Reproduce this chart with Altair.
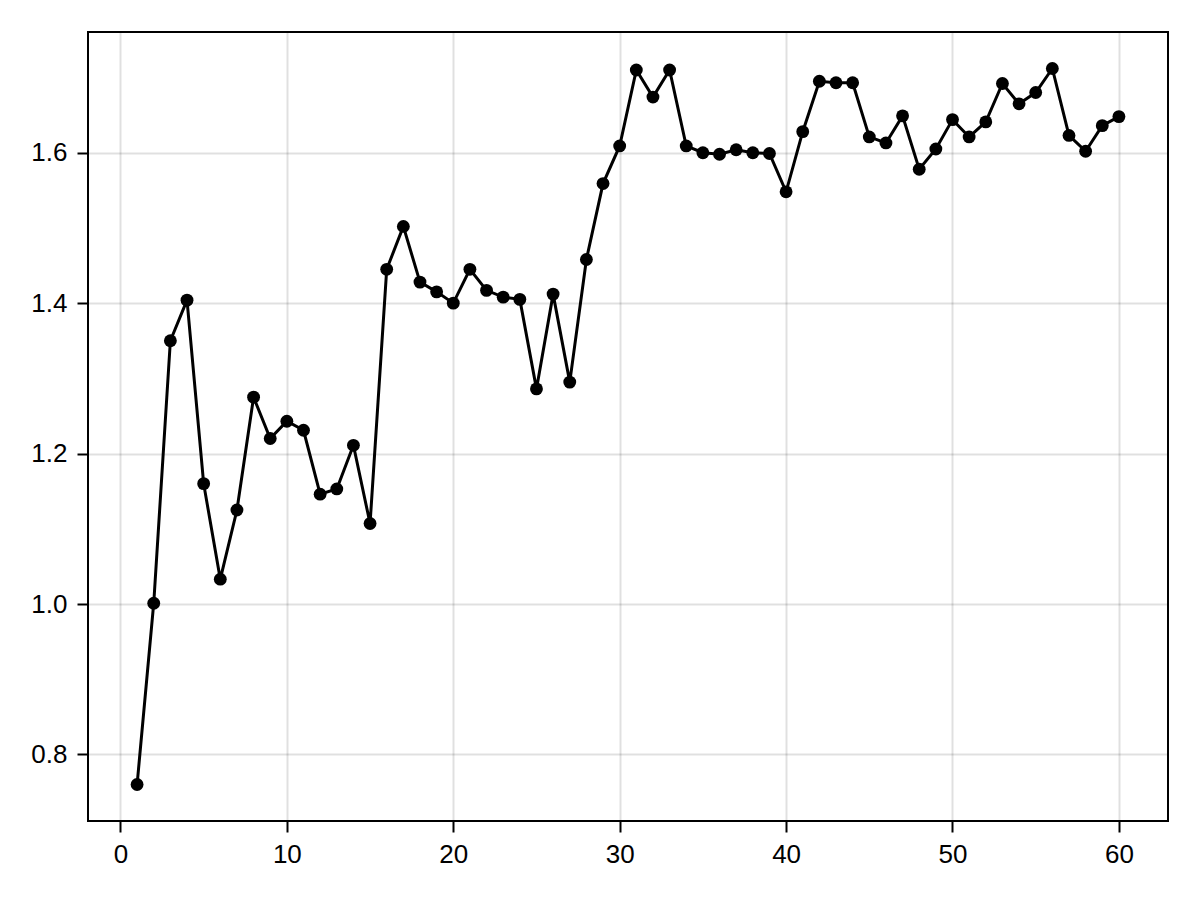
import altair as alt
import pandas as pd

x_vals = list(range(1, 61))
y_vals = [0.760, 1.001, 1.350, 1.404, 1.160, 1.033, 1.125, 1.275, 1.220, 1.243,
          1.231, 1.146, 1.153, 1.211, 1.107, 1.445, 1.502, 1.428, 1.415, 1.400,
          1.445, 1.417, 1.408, 1.405, 1.286, 1.412, 1.295, 1.458, 1.559, 1.609,
          1.710, 1.674, 1.710, 1.609, 1.600, 1.598, 1.604, 1.600, 1.599, 1.548,
          1.628, 1.695, 1.693, 1.693, 1.621, 1.613, 1.649, 1.578, 1.605, 1.644,
          1.621, 1.641, 1.692, 1.665, 1.680, 1.712, 1.623, 1.602, 1.636, 1.648]
x_ticks = [0, 10, 20, 30, 40, 50, 60]
y_ticks = [0.8, 1.0, 1.2, 1.4, 1.6]

df = pd.DataFrame({"x": x_vals, "y": y_vals})

xenc = alt.X("x:Q", scale=alt.Scale(domain=[-1.95, 62.95], nice=False, zero=False),
             axis=alt.Axis(values=x_ticks, title=None, format="d"))
yenc = alt.Y("y:Q", scale=alt.Scale(domain=[0.7115, 1.7605], nice=False, zero=False),
             axis=alt.Axis(values=y_ticks, title=None, format=".1f"))

base = alt.Chart(df).encode(x=xenc, y=yenc)
line = base.mark_line(color="black", strokeWidth=3)
pts = base.mark_point(filled=True, color="black", size=165, opacity=1, shape="circle")

chart = (line + pts).properties(
    width=1080, height=789,
    autosize=alt.AutoSizeParams(type="none"),
    padding={"left": 80, "top": 24, "right": 24, "bottom": 70},
    background="white",
).configure_view(
    stroke="black", strokeWidth=2
).configure_axis(
    domain=False,
    grid=True, gridColor="#000000", gridOpacity=0.12, gridWidth=2,
    ticks=True, tickColor="black", tickSize=11, tickWidth=2,
    labelFont="Liberation Sans", labelFontSize=26, labelColor="black",
).configure_axisX(
    labelPadding=9
).configure_axisY(
    labelPadding=10
)

chart.save("out.html", embed_options={"renderer": "svg", "actions": False})
